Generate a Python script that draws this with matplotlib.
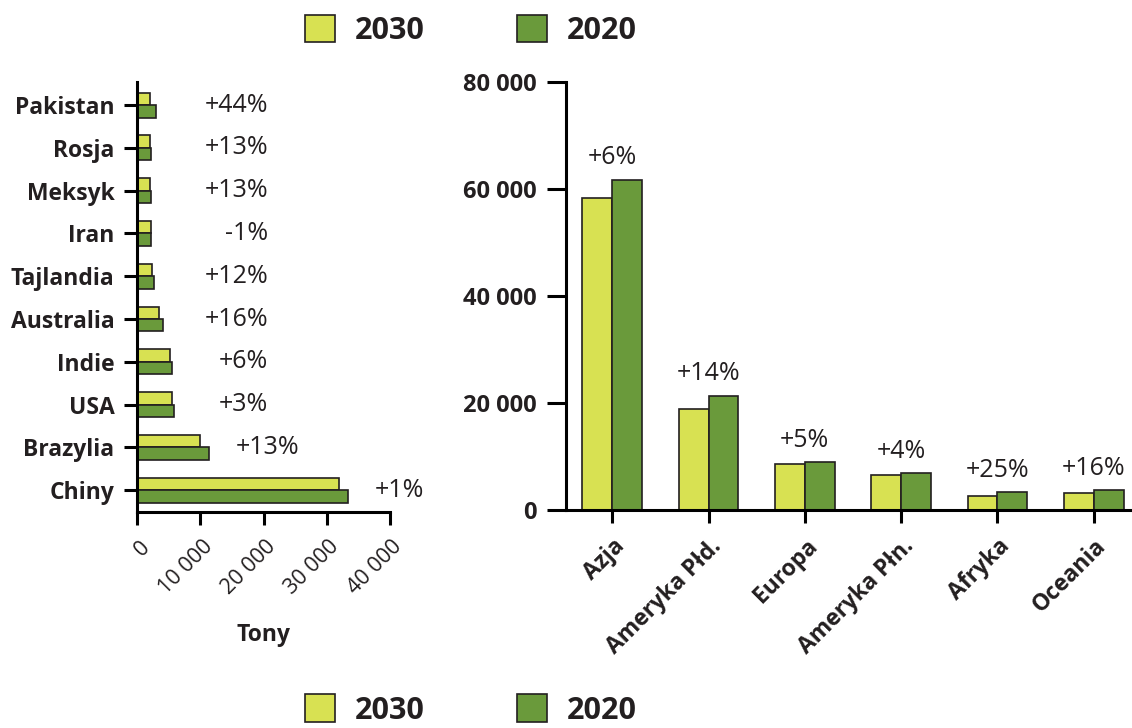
# 肥料/产量对比图：左侧国家横向条形图，右侧各大洲纵向条形图
import numpy as np
import matplotlib
matplotlib.use("Agg")
import matplotlib.pyplot as plt
from matplotlib.patches import Patch
from matplotlib.transforms import ScaledTranslation

plt.rcParams['font.family'] = ['Open Sans', 'DejaVu Sans']

# 数据：国家（从上到下）
countries = ["Pakistan", "Rosja", "Meksyk", "Iran", "Tajlandia",
             "Australia", "Indie", "USA", "Brazylia", "Chiny"]
countries_2030 = [2000, 1950, 1950, 2200, 2400, 3500, 5100, 5500, 10000, 32000]
countries_2020 = [3000, 2200, 2200, 2150, 2700, 4100, 5450, 5750, 11300, 33300]
countries_change = ["+44%", "+13%", "+13%", "-1%", "+12%",
                    "+16%", "+6%", "+3%", "+13%", "+1%"]
country_ticks = [0, 10000, 20000, 30000, 40000]

# 数据：大洲
regions = ["Azja", "Ameryka Płd.", "Europa", "Ameryka Płn.", "Afryka", "Oceania"]
regions_2030 = [58250, 18800, 8600, 6600, 2700, 3200]
regions_2020 = [61750, 21400, 9000, 6900, 3380, 3750]
regions_change = ["+6%", "+14%", "+5%", "+4%", "+25%", "+16%"]
region_ticks = [0, 20000, 40000, 60000, 80000]

series_labels = ["2030", "2020"]

C_LIGHT = "#d8e152"
C_DARK = "#6a9a3b"
C_EDGE = "#231f20"
C_TEXT = "#231f20"
W, H = 1132, 728


def fmt(v):
    return f"{v:,}".replace(",", " ")


def style_axes(ax):
    for s in ["top", "right"]:
        ax.spines[s].set_visible(False)
    for s in ["left", "bottom"]:
        ax.spines[s].set_linewidth(2.2)
        ax.spines[s].set_color("black")
    ax.tick_params(width=2.2, length=9.5, color="black", labelcolor=C_TEXT)


fig = plt.figure(figsize=(W / 100, H / 100), dpi=100)

# 左图：国家
ax1 = fig.add_axes([137.3 / W, (H - 512) / H, 252.7 / W, 430 / H])
style_axes(ax1)
y = np.arange(len(countries))
bh = 0.29
ax1.barh(y - bh / 2, countries_2030, height=bh, color=C_LIGHT, edgecolor=C_EDGE, linewidth=1.2)
ax1.barh(y + bh / 2, countries_2020, height=bh, color=C_DARK, edgecolor=C_EDGE, linewidth=1.2)
ax1.set_xlim(0, 40000)
ax1.set_ylim(9.51, -0.54)
ax1.spines["bottom"].set_bounds(0, 40000)
ax1.set_yticks(y)
ax1.set_yticklabels(countries, fontsize=16.5, fontweight="bold")
ax1.tick_params(axis="y", pad=7)
ax1.set_xticks(country_ticks)
ax1.set_xticklabels([fmt(v) for v in country_ticks], fontsize=15.5, rotation=45,
                    ha="right", va="center", rotation_mode="anchor")
ax1.tick_params(axis="x", length=9, pad=14)
off = ScaledTranslation(9 / 100, 0, fig.dpi_scale_trans)
for lbl in ax1.get_xticklabels():
    lbl.set_transform(lbl.get_transform() + off)
ax1.set_xlabel("Tony", fontsize=16.5, fontweight="bold", color=C_TEXT, va="top")
ax1.xaxis.set_label_coords(0.5, -0.258)

for i, (a, b, t) in enumerate(zip(countries_2030, countries_2020, countries_change)):
    vmax = max(a, b)
    if vmax > 8000:
        ax1.text(vmax + 4300, i, t, ha="left", va="center", fontsize=18,
                 color=C_TEXT, clip_on=False)
    else:
        ax1.text(20700, i, t, ha="right", va="center", fontsize=18,
                 color=C_TEXT, clip_on=False)

# 右图：大洲
ax2 = fig.add_axes([566 / W, (H - 510) / H, 571 / W, 428 / H])
style_axes(ax2)
x = np.arange(len(regions))
bw = 0.31
ax2.bar(x - bw / 2, regions_2030, width=bw, color=C_LIGHT, edgecolor=C_EDGE, linewidth=1.2)
ax2.bar(x + bw / 2, regions_2020, width=bw, color=C_DARK, edgecolor=C_EDGE, linewidth=1.2)
ax2.set_xlim(-0.48, 5.45)
ax2.set_ylim(0, 80000)
ax2.set_yticks(region_ticks)
ax2.set_yticklabels([fmt(v) for v in region_ticks], fontsize=17, fontweight="bold")
ax2.tick_params(axis="y", length=14, pad=7)
ax2.set_xticks(x)
ax2.set_xticklabels(regions, fontsize=16.5, fontweight="bold", rotation=45,
                    ha="right", va="center", rotation_mode="anchor")
ax2.tick_params(axis="x", length=9.5, pad=14)
for lbl in ax2.get_xticklabels():
    lbl.set_transform(lbl.get_transform() + off)

for i, (a, b, t) in enumerate(zip(regions_2030, regions_2020, regions_change)):
    ax2.annotate(t, (i, max(a, b)), xytext=(0, 11), textcoords="offset points",
                 ha="center", va="baseline", fontsize=18, color=C_TEXT)

# 图例（上下各一个）
handles = [Patch(facecolor=C_LIGHT, edgecolor=C_EDGE, linewidth=1.2),
           Patch(facecolor=C_DARK, edgecolor=C_EDGE, linewidth=1.2)]
for yc in [1 - 30.5 / H, 1 - 710 / H]:
    leg = fig.legend(handles, series_labels, loc="center", bbox_to_anchor=(471 / W, yc),
                     ncol=2, frameon=False, handlelength=1.0, handleheight=1.0,
                     handletextpad=0.65, columnspacing=3.0,
                     prop={"size": 22, "weight": "bold"})
    for t in leg.get_texts():
        t.set_color(C_TEXT)

fig.savefig("out.png", dpi=100)
